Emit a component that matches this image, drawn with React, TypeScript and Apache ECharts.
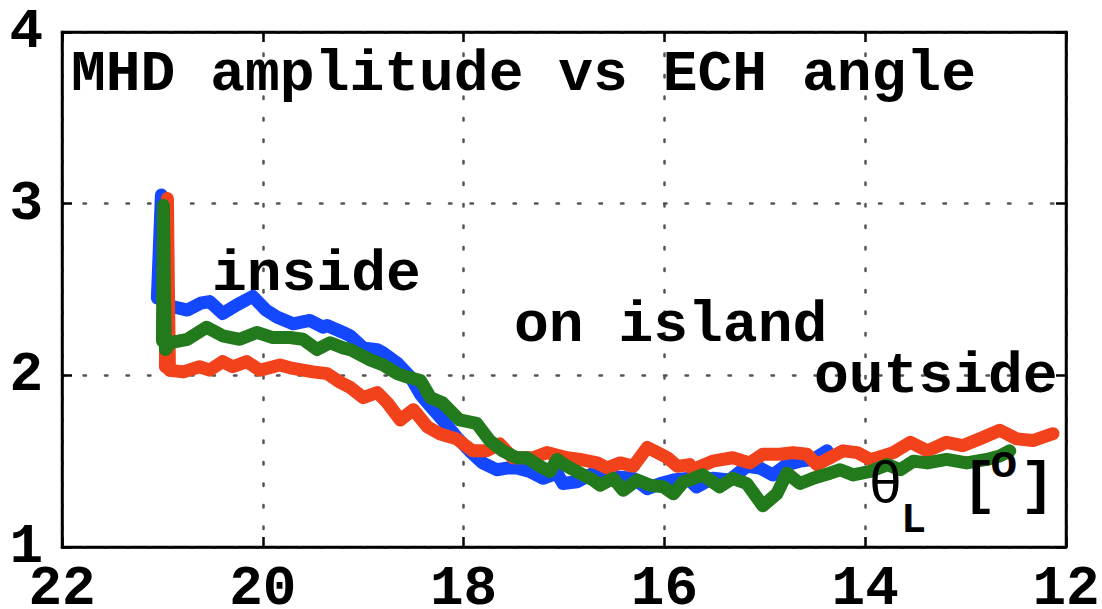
import React, { useEffect, useRef } from "react";
import * as echarts from "echarts";

// ECH angle theta_L [deg] vs MHD amplitude
const blueData: [number, number][] = [
  [21.05, 2.45], [21.03, 2.75], [21.01, 3.05], [20.99, 2.55], [20.96, 2.4],
  [20.9, 2.4], [20.75, 2.38], [20.62, 2.42], [20.53, 2.43], [20.4, 2.36],
  [20.26, 2.41], [20.1, 2.46], [19.97, 2.38], [19.86, 2.34], [19.7, 2.3],
  [19.53, 2.32], [19.4, 2.28], [19.36, 2.29], [19.2, 2.25], [19.13, 2.23],
  [19.0, 2.16], [18.86, 2.15], [18.8, 2.13], [18.66, 2.07], [18.53, 1.99],
  [18.43, 1.89], [18.33, 1.82], [18.21, 1.74], [18.07, 1.64], [17.94, 1.56],
  [17.81, 1.49], [17.67, 1.45], [17.57, 1.46], [17.47, 1.46], [17.34, 1.44],
  [17.21, 1.4], [17.07, 1.43], [17.01, 1.37], [16.87, 1.38], [16.71, 1.43],
  [16.51, 1.41], [16.31, 1.4], [16.17, 1.34], [16.04, 1.37], [15.91, 1.39],
  [15.77, 1.4], [15.68, 1.35], [15.52, 1.4], [15.35, 1.39], [15.18, 1.47],
  [15.05, 1.46], [14.92, 1.42], [14.78, 1.48], [14.65, 1.5], [14.52, 1.51],
  [14.38, 1.56],
];

const redData: [number, number][] = [
  [20.97, 2.05], [20.96, 2.6], [20.95, 3.03], [20.94, 2.5], [20.93, 2.03],
  [20.79, 2.02], [20.63, 2.05], [20.53, 2.03], [20.4, 2.08], [20.3, 2.05],
  [20.16, 2.08], [20.03, 2.03], [19.83, 2.06], [19.7, 2.04], [19.5, 2.02],
  [19.36, 2.01], [19.23, 1.96], [19.13, 1.93], [19.0, 1.87], [18.86, 1.9],
  [18.76, 1.84], [18.63, 1.74], [18.5, 1.8], [18.36, 1.7], [18.24, 1.66],
  [18.07, 1.63], [17.91, 1.56], [17.77, 1.56], [17.64, 1.6], [17.51, 1.52],
  [17.31, 1.52], [17.17, 1.55], [16.97, 1.52], [16.84, 1.51], [16.67, 1.49],
  [16.57, 1.46], [16.44, 1.49], [16.31, 1.47], [16.17, 1.58], [16.07, 1.55],
  [15.97, 1.52], [15.87, 1.47], [15.75, 1.48], [15.72, 1.45], [15.52, 1.5],
  [15.32, 1.52], [15.15, 1.49], [15.02, 1.54], [14.85, 1.54], [14.72, 1.55],
  [14.58, 1.54], [14.48, 1.48], [14.35, 1.52], [14.22, 1.56], [14.08, 1.55],
  [13.95, 1.51], [13.88, 1.52], [13.72, 1.55], [13.55, 1.61], [13.38, 1.56],
  [13.19, 1.61], [13.03, 1.59], [12.86, 1.63], [12.66, 1.68], [12.49, 1.63],
  [12.33, 1.62], [12.13, 1.66],
];

const greenData: [number, number][] = [
  [21.0, 2.2], [20.995, 2.6], [20.99, 2.99], [20.98, 2.5], [20.97, 2.15],
  [20.92, 2.19], [20.75, 2.21], [20.56, 2.28], [20.4, 2.23], [20.23, 2.21],
  [20.06, 2.25], [19.9, 2.22], [19.73, 2.22], [19.6, 2.21], [19.46, 2.15],
  [19.33, 2.19], [19.2, 2.16], [19.13, 2.15], [18.93, 2.09], [18.8, 2.06],
  [18.66, 2.01], [18.56, 1.99], [18.43, 1.97], [18.33, 1.87], [18.21, 1.84],
  [18.04, 1.74], [17.87, 1.72], [17.74, 1.62], [17.61, 1.56], [17.47, 1.52],
  [17.37, 1.52], [17.24, 1.47], [17.14, 1.44], [17.07, 1.51], [16.97, 1.47],
  [16.84, 1.43], [16.71, 1.39], [16.64, 1.36], [16.51, 1.4], [16.41, 1.33],
  [16.27, 1.39], [16.14, 1.36], [16.01, 1.35], [15.91, 1.31], [15.81, 1.38],
  [15.75, 1.39], [15.62, 1.42], [15.45, 1.35], [15.32, 1.4], [15.18, 1.37],
  [15.02, 1.24], [14.88, 1.31], [14.78, 1.43], [14.65, 1.37], [14.52, 1.4],
  [14.35, 1.43], [14.25, 1.45], [14.12, 1.42], [13.95, 1.44], [13.78, 1.48],
  [13.65, 1.45], [13.52, 1.5], [13.38, 1.49], [13.19, 1.51], [12.99, 1.49],
  [12.79, 1.51], [12.66, 1.53], [12.56, 1.56],
];

const xRange = { min: 12, max: 22, interval: 2 };
const yRange = { min: 1, max: 4, interval: 1 };

const titleText = "MHD amplitude vs ECH angle";
const regionLabels = ["inside", "on island", "outside"];

const FONT = '"Liberation Mono", "Courier New", monospace';

export default function App() {
  const ref = useRef<HTMLDivElement>(null);

  useEffect(() => {
    if (!ref.current) return;
    const chart = echarts.init(ref.current, undefined, { renderer: "svg" });

    const grid = { left: 62, right: 36, top: 32, bottom: 62 };
    const dotted = {
      show: true,
      lineStyle: { color: "#555", width: 2.5, type: [2.5, 19] as any, cap: "round" as any },
    };

    const lineSeries = (name: string, data: [number, number][], color: string) => ({
      name,
      type: "line",
      data,
      symbol: "none",
      smooth: false,
      lineStyle: { color, width: 13, cap: "round", join: "round" },
      z: 3,
    });

    const txt = (text: string, x: number, y: number, size: number, weight = "bold") => ({
      type: "text",
      x,
      y,
      z: 100,
      style: {
        text,
        fontFamily: FONT,
        fontSize: size,
        fontWeight: weight,
        fill: "#000",
        align: "left",
        verticalAlign: "middle",
      },
    });

    const frameAxis = { show: true, lineStyle: { color: "#000", width: 2.5 } };
    const inTick = { show: true, inside: true, length: 10, lineStyle: { color: "#000", width: 2.5 } };

    chart.setOption({
      animation: false,
      backgroundColor: "#fff",
      grid: {
        ...grid,
        show: true,
        borderColor: "#000",
        borderWidth: 2.5,
        containLabel: false,
        outerBoundsMode: "none",
      },
      xAxis: [
        {
          type: "value",
          ...xRange,
          inverse: true,
          axisLine: frameAxis,
          axisTick: inTick,
          axisLabel: {
            show: true,
            margin: 23,
            color: "#000",
            fontFamily: FONT,
            fontWeight: "bold",
            fontSize: 56,
            lineHeight: 38,
          },
          splitLine: dotted,
        },
        {
          type: "value",
          position: "top",
          ...xRange,
          inverse: true,
          axisLine: frameAxis,
          axisTick: inTick,
          axisLabel: { show: false },
          splitLine: { show: false },
        },
      ],
      yAxis: [
        {
          type: "value",
          ...yRange,
          axisLine: frameAxis,
          axisTick: inTick,
          axisLabel: {
            show: true,
            margin: 19,
            color: "#000",
            fontFamily: FONT,
            fontWeight: "bold",
            fontSize: 56,
            lineHeight: 38,
            padding: [22, 0, 0, 0],
          },
          splitLine: dotted,
        },
        {
          type: "value",
          position: "right",
          ...yRange,
          axisLine: frameAxis,
          axisTick: inTick,
          axisLabel: { show: false },
          splitLine: { show: false },
        },
      ],
      series: [
        lineSeries("blue", blueData, "#1448ff"),
        lineSeries("red", redData, "#f2421c"),
        lineSeries("green", greenData, "#227a1c"),
      ],
      graphic: [
        txt(titleText, 71, 74.5, 58),
        txt(regionLabels[0], 212, 274.5, 58),
        txt(regionLabels[1], 514, 325.5, 58),
        txt(regionLabels[2], 814, 376.5, 58),
        txt("θ", 868, 486.5, 58, "normal"),
        txt("L", 901, 521, 42),
        txt("[", 962, 486.5, 58),
        txt("o", 990, 465, 46),
        txt("]", 1020, 486.5, 58),
      ],
    });

    return () => chart.dispose();
  }, []);

  return (
    <div
      ref={ref}
      style={{ position: "absolute", left: 0, top: 0, width: 1102, height: 609 }}
    />
  );
}
